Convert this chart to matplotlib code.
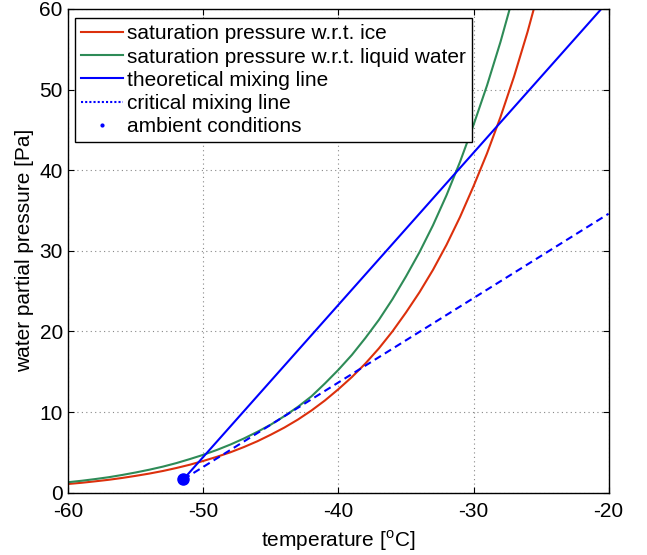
import matplotlib
matplotlib.use("Agg")
import matplotlib.pyplot as plt
from matplotlib.lines import Line2D

plt.rcParams["font.family"] = ["Liberation Sans", "DejaVu Sans"]
plt.rcParams["axes.unicode_minus"] = False

# temperature grid [deg C]
temps = [-60, -59, -58, -57, -56, -55, -54, -53, -52, -51, -50, -49,
         -48, -47, -46, -45, -44, -43, -42, -41, -40, -39, -38, -37,
         -36, -35, -34, -33, -32, -31, -30, -29, -28, -27, -26, -25]

# saturation pressure over ice [Pa]
p_ice = [1.08, 1.23, 1.41, 1.60, 1.83, 2.09, 2.37, 2.69, 3.06, 3.47, 3.94, 4.45,
         5.01, 5.66, 6.38, 7.20, 8.08, 9.07, 10.19, 11.44, 12.84, 14.35, 16.03, 17.91,
         20.01, 22.35, 24.86, 27.64, 30.74, 34.19, 38.01, 42.09, 46.61, 51.61, 57.15, 63.29]

# saturation pressure over liquid water [Pa]
p_liq = [1.30, 1.48, 1.69, 1.92, 2.20, 2.51, 2.85, 3.23, 3.67, 4.17, 4.70, 5.30,
         5.97, 6.72, 7.55, 8.45, 9.50, 10.65, 11.95, 13.55, 15.25, 17.10, 19.20, 21.45,
         24.00, 26.82, 29.83, 33.17, 36.89, 41.03, 45.61, 50.51, 55.93, 61.93, 68.58, 75.95]

# ambient conditions and mixing lines
ambient_t = -51.48
ambient_p = 1.66
theo_end_t = -20.54
theo_end_p = 60.0
crit_end_t = -20.0
crit_end_p = 34.6

fig = plt.figure(figsize=(6.47, 5.55), dpi=100)
ax = fig.add_axes([0.1056, 0.1123, 0.835, 0.8715])

c_ice = "#dc300c"
c_liq = "#2e8b57"
c_mix = "#0000ff"

ax.plot(temps, p_ice, color=c_ice, lw=1.5)
ax.plot(temps, p_liq, color=c_liq, lw=1.5)
ax.plot([ambient_t, theo_end_t], [ambient_p, theo_end_p], color=c_mix, lw=1.5)
ax.plot([ambient_t, crit_end_t], [ambient_p, crit_end_p], color=c_mix, lw=1.5,
        ls=(0, (3.5, 2.2)))
ax.plot([ambient_t], [ambient_p], "o", color=c_mix, ms=8)

ax.set_xlim(-60, -20)
ax.set_ylim(0, 60)
ax.set_xticks([-60, -50, -40, -30, -20])
ax.set_yticks([0, 10, 20, 30, 40, 50, 60])
ax.tick_params(direction="in", top=True, right=True, labelsize=15, length=4)
ax.tick_params(axis="x", pad=7)
ax.tick_params(axis="y", pad=4)
ax.grid(True, ls=(0, (1, 3)), color="#888888", lw=0.8)
for s in ax.spines.values():
    s.set_linewidth(1.0)

ax.set_xlabel("temperature [$^{\\mathregular{o}}$C]", fontsize=15, labelpad=5)
ax.set_ylabel("water partial pressure [Pa]", fontsize=15, labelpad=4)

handles = [
    Line2D([], [], color=c_ice, lw=1.5),
    Line2D([], [], color=c_liq, lw=1.5),
    Line2D([], [], color=c_mix, lw=1.5),
    Line2D([], [], color=c_mix, lw=1.5, ls=(0, (1, 1))),
    Line2D([], [], color=c_mix, ls="none", marker="o", ms=2),
]
labels = ["saturation pressure w.r.t. ice",
          "saturation pressure w.r.t. liquid water",
          "theoretical mixing line",
          "critical mixing line",
          "ambient conditions"]
leg = ax.legend(handles, labels, loc="upper left", bbox_to_anchor=(0.0124, 0.981),
                borderaxespad=0, fontsize=15, fancybox=False, framealpha=1,
                edgecolor="black", handlelength=2.0, handletextpad=0.2,
                labelspacing=0.2, borderpad=0.3)
leg.get_frame().set_linewidth(1.0)

fig.savefig("out.png", dpi=100)
